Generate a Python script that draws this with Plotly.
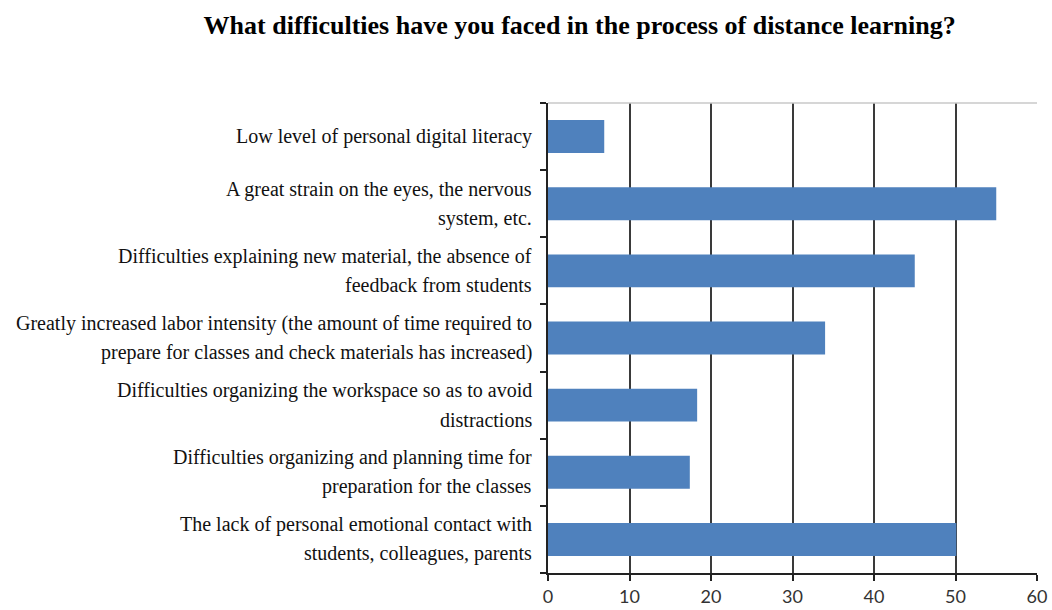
import plotly.graph_objects as go

title = "What difficulties have you faced in the process of distance learning?"
categories = [
    "Low level of personal digital literacy",
    "A great strain on the eyes, the nervous<br>system, etc.",
    "Difficulties explaining new material, the absence of<br>feedback from students",
    "Greatly increased labor intensity (the amount of time required to<br>prepare for classes and check materials has increased)",
    "Difficulties organizing the workspace so as to avoid<br>distractions",
    "Difficulties organizing and planning time for<br>preparation for the classes",
    "The lack of personal emotional contact with<br>students, colleagues, parents",
]
values = [6.9, 55, 45, 34, 18.3, 17.4, 50.1]
x_ticks = [0, 10, 20, 30, 40, 50, 60]

ids = list(range(len(categories)))

fig = go.Figure()
fig.add_trace(go.Bar(
    x=values, y=ids, orientation="h",
    marker=dict(color="#4F81BD", line=dict(width=0)),
    width=0.49,
))

annotations = []
for i, lab in zip(ids, categories):
    lines = lab.split("<br>")
    if len(lines) == 1:
        shifts = [0]
    else:
        shifts = [14.5, -14.5]
    for ln, s in zip(lines, shifts):
        annotations.append(dict(
            text=ln, x=0, xref="paper", xanchor="right", xshift=-14,
            y=i, yref="y", yanchor="middle", yshift=s, showarrow=False,
            font=dict(family="Liberation Serif", size=20, color="#111111"),
        ))

fig.update_layout(
    width=1052, height=610,
    margin=dict(l=548, r=15, t=103, b=37, autoexpand=False),
    paper_bgcolor="white", plot_bgcolor="white",
    showlegend=False,
    bargap=0.5,
    annotations=annotations,
    title=dict(text="<b>" + title + "</b>", x=0.551, xanchor="center", y=0.96, yanchor="middle",
               font=dict(family="Liberation Serif", size=26, color="#000000")),
    shapes=[dict(type="line", xref="paper", yref="paper", x0=0, x1=1, y0=1, y1=1,
                 line=dict(color="#c8c8c8", width=1.5))],
)
fig.update_xaxes(
    range=[0, 60], tickvals=x_ticks, ticktext=[str(t) for t in x_ticks],
    showgrid=True, gridcolor="#3a3a3a", gridwidth=2,
    showline=True, linecolor="#222222", linewidth=2,
    ticks="outside", ticklen=6, tickwidth=2, tickcolor="#222222",
    tickfont=dict(family="Lato", size=18, color="#333333"),
    zeroline=False, fixedrange=True, automargin=False,
)
fig.update_yaxes(
    range=[len(categories) - 0.5, -0.5], tickvals=[i + 0.5 for i in range(-1, len(categories))],
    ticktext=[""] * (len(categories) + 1),
    showgrid=False, showline=True, linecolor="#222222", linewidth=2,
    ticks="outside", ticklen=6, tickwidth=2, tickcolor="#222222",
    zeroline=False, fixedrange=True, automargin=False,
)

fig.write_html("out.html", config={"displayModeBar": False},
               post_script="document.body.style.margin='0';document.body.style.overflow='hidden';")
